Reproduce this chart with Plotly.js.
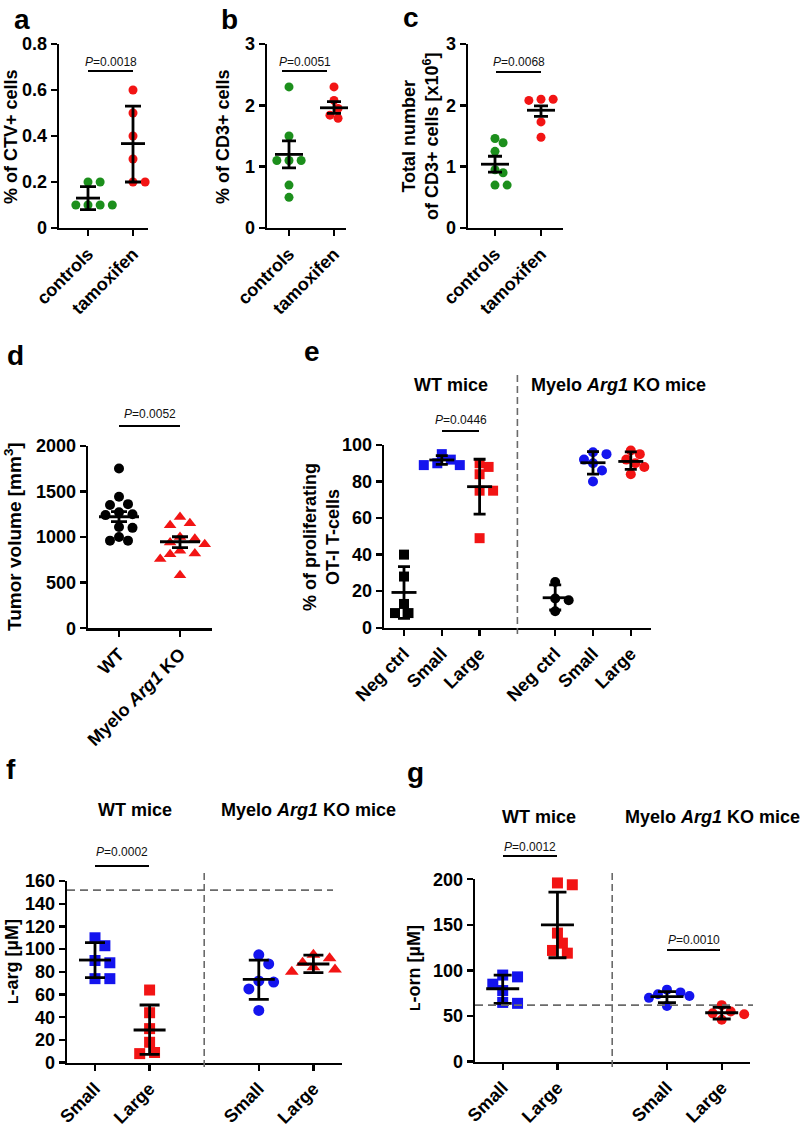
<!DOCTYPE html>
<html><head><meta charset="utf-8">
<script src="https://cdn.plot.ly/plotly-3.0.1.min.js"></script>
<style>html,body{margin:0;padding:0;background:#fff;}#chart{width:800px;height:1135px;}</style>
</head><body><div id="chart"></div>
<script>
// ================= DATA =================
// Panel a : % of CTV+ cells
const catsA = ['controls', 'tamoxifen'];
const ctvControls = [0.2, 0.2, 0.1, 0.1, 0.1, 0.1];
const ctvTamoxifen = [0.6, 0.5, 0.4, 0.3, 0.2, 0.2];
const ctvMean = [0.13, 0.367];
const ctvLow = [0.08, 0.20];
const ctvHigh = [0.18, 0.53];
const pValueA = '0.0018';

// Panel b : % of CD3+ cells
const catsB = ['controls', 'tamoxifen'];
const cd3PctControls = [2.3, 1.5, 1.1, 1.1, 1.1, 0.7, 0.5];
const cd3PctTamoxifen = [2.3, 2.08, 2.08, 1.95, 1.84, 1.79];
const cd3PctMean = [1.2, 1.96];
const cd3PctLow = [0.98, 1.87];
const cd3PctHigh = [1.42, 2.06];
const pValueB = '0.0051';

// Panel c : total number of CD3+ cells [x10^6]
const catsC = ['controls', 'tamoxifen'];
const cd3NumControls = [1.46, 1.39, 1.25, 0.95, 0.9, 0.7, 0.7];
const cd3NumTamoxifen = [2.1, 2.1, 2.08, 2.08, 1.73, 1.48];
const cd3NumMean = [1.04, 1.92];
const cd3NumLow = [0.91, 1.82];
const cd3NumHigh = [1.17, 1.99];
const pValueC = '0.0068';

// Panel d : tumor volume [mm3]
const catsD = ['WT', 'Myelo <i>Arg1</i> KO'];
const tumorWT = [1750, 1440, 1360, 1350, 1270, 1250, 1240, 1110, 1100, 1000, 960, 960];
const tumorKO = [1220, 1150, 1130, 1000, 980, 940, 920, 850, 820, 810, 760, 580];
const tumorMean = [1222, 948];
const tumorLow = [1168, 883];
const tumorHigh = [1277, 1003];
const pValueD = '0.0052';

// Panel e : % of proliferating OT-I T-cells
const catsE = ['Neg ctrl', 'Small', 'Large', 'Neg ctrl', 'Small', 'Large'];
const miceGroups = ['WT mice', 'Myelo <i>Arg1</i> KO mice'];
const prolifWTNeg = [40, 28, 13, 8, 8];
const prolifWTSmall = [95, 92, 90, 89, 89];
const prolifWTLarge = [90, 88, 84, 75, 75, 49];
const prolifKONeg = [25, 16, 15, 9];
const prolifKOSmall = [96, 95, 92, 90, 86, 80];
const prolifKOLarge = [97, 95, 92, 90, 88, 84];
const prolifMean = [19.3, 91.8, 77.2, 16.4, 90.3, 91.0];
const prolifLow = [5.1, 89.4, 62.2, 9.7, 84.1, 86.7];
const prolifHigh = [33.4, 94.2, 92.2, 23.4, 96.4, 96.2];
const pValueE = '0.0446';

// Panel f : L-arg [uM]
const catsF = ['Small', 'Large', 'Small', 'Large'];
const argWTSmall = [110, 103, 90, 88, 74, 74];
const argWTLarge = [64, 44, 30, 18, 9, 8];
const argKOSmall = [95, 87, 72, 71, 65, 46];
const argKOLarge = [95, 92, 88, 84, 82, 80];
const argMean = [90.4, 28.8, 73.4, 86.9];
const argLow = [74.9, 7.3, 55.8, 79.3];
const argHigh = [105.7, 50.8, 90.4, 94.8];
const argBaseline = 152;
const pValueF = '0.0002';

// Panel g : L-orn [uM]
const catsG = ['Small', 'Large', 'Small', 'Large'];
const ornWTSmall = [95, 93, 85, 78, 65, 64];
const ornWTLarge = [196, 194, 141, 130, 122, 119];
const ornKOSmall = [79, 76, 74, 72, 70, 61];
const ornKOLarge = [62, 55, 53, 52, 46];
const ornMean = [80, 150, 71.3, 53.7];
const ornLow = [64, 114, 64.7, 46.8];
const ornHigh = [95, 186, 76.8, 59.6];
const ornBaseline = 62;
const pValueG1 = '0.0012';
const pValueG2 = '0.0010';

// ================= STYLE / LAYOUT HELPERS =================
const FONT = 'Arial, "Liberation Sans", Helvetica, sans-serif';
const GREEN = '#1c8f1c', RED = '#f21414', BLUE = '#1414ee', BLACK = '#000000';
const W = 800, H = 1135;
const fx = p => p / W;
const fy = p => 1 - p / H;

const traces = [];
const layout = {
  width: W, height: H, margin: {l: 0, r: 0, t: 0, b: 0},
  paper_bgcolor: '#ffffff', plot_bgcolor: 'rgba(0,0,0,0)',
  showlegend: false, font: {family: FONT, color: BLACK},
  shapes: [], annotations: []
};

function swarmOffsets(vals, pxY, pxX, diam) {
  const order = vals.map((v, i) => i).sort((a, b) => vals[b] - vals[a]);
  const placed = [];
  const off = new Array(vals.length).fill(0);
  const step = diam * 0.45, minD = diam * 0.95;
  order.forEach(i => {
    const y = vals[i] * pxY;
    for (let k = 0; k < 60; k++) {
      const m = Math.ceil(k / 2) * (k % 2 === 1 ? 1 : -1);
      const xo = m * step;
      if (placed.every(p => Math.hypot(p.x - xo, p.y - y) >= minD)) {
        placed.push({x: xo, y: y});
        off[i] = xo / pxX;
        break;
      }
    }
  });
  return off;
}

function panel(k, g) {
  const sfx = k === 1 ? '' : String(k);
  const xr = 'x' + sfx, yr = 'y' + sfx;
  const xRange = [(g.xPx[0] - g.cat0) / g.sp, (g.xPx[1] - g.cat0) / g.sp];
  layout['xaxis' + sfx] = {
    domain: [fx(g.xPx[0]), fx(g.xPx[1])], range: xRange, anchor: yr,
    showline: true, linewidth: 2.4, linecolor: BLACK, mirror: false,
    ticks: 'outside', ticklen: 6, tickwidth: 2.4, tickcolor: BLACK,
    tickvals: g.tickPos, ticktext: g.tickText, tickangle: -45,
    tickfont: {family: FONT, size: 18, color: BLACK, weight: 'bold'},
    showgrid: false, zeroline: false, fixedrange: true
  };
  layout['yaxis' + sfx] = {
    domain: [fy(g.yPx[1]), fy(g.yPx[0])], range: g.yRange, anchor: xr,
    showline: true, linewidth: 2.4, linecolor: BLACK,
    ticks: 'outside', ticklen: 6, tickwidth: 2.4, tickcolor: BLACK,
    tickvals: g.yTicks, tickfont: {family: FONT, size: 18, color: BLACK, weight: 'bold'},
    showgrid: false, zeroline: false, fixedrange: true
  };
  const pxY = (g.yPx[1] - g.yPx[0]) / (g.yRange[1] - g.yRange[0]);
  const pxX = g.sp;
  g.groups.forEach(gr => {
    const off = swarmOffsets(gr.vals, pxY, pxX, gr.size);
    traces.push({
      type: 'scatter', mode: 'markers', xaxis: xr, yaxis: yr,
      x: gr.vals.map((v, i) => gr.pos + off[i]), y: gr.vals,
      marker: {color: gr.color, size: gr.size, symbol: gr.symbol, line: {width: 0}},
      cliponaxis: false, hoverinfo: 'skip'
    });
  });
  traces.push({
    type: 'scatter', mode: 'markers', xaxis: xr, yaxis: yr,
    x: g.sumPos, y: g.mean,
    marker: {symbol: 'line-ew', size: g.meanW / 1.4, color: BLACK, line: {color: BLACK, width: 2.8}},
    error_y: {type: 'data', symmetric: false,
      array: g.hi.map((h, i) => h - g.mean[i]),
      arrayminus: g.lo.map((l, i) => g.mean[i] - l),
      color: BLACK, thickness: 2.8, width: g.capW},
    cliponaxis: false, hoverinfo: 'skip'
  });
  return {xr: xr, yr: yr};
}

function pLine(text, x0, x1, yLine, yText) {
  layout.shapes.push({type: 'line', xref: 'paper', yref: 'paper',
    x0: fx(x0), x1: fx(x1), y0: fy(yLine), y1: fy(yLine), line: {color: BLACK, width: 2}});
  layout.annotations.push({xref: 'paper', yref: 'paper', x: fx((x0 + x1) / 2), y: fy(yText),
    xanchor: 'center', yanchor: 'middle', showarrow: false,
    text: '<i>P</i>=' + text, font: {family: FONT, size: 12, color: '#111'}});
}
function label(text, x, y, size, angle) {
  layout.annotations.push({xref: 'paper', yref: 'paper', x: fx(x), y: fy(y),
    xanchor: 'center', yanchor: 'middle', showarrow: false, textangle: angle || 0,
    text: '<b>' + text + '</b>', font: {family: FONT, size: size, color: BLACK, weight: 'bold'}});
}
function vDivider(xref, pos, yTop, yBot) {
  layout.shapes.push({type: 'line', xref: xref, yref: 'paper', x0: pos, x1: pos,
    y0: fy(yTop), y1: fy(yBot), line: {color: '#6a6a6a', width: 1.6, dash: '7px,4px'}});
}
function hBaseline(yref, val, xl, xrgt) {
  layout.shapes.push({type: 'line', xref: 'paper', yref: yref, x0: fx(xl), x1: fx(xrgt),
    y0: val, y1: val, line: {color: '#6a6a6a', width: 1.6, dash: '8px,5px'}});
}

const twoPos = [0, 1];
const sixPos = catsE.map((c, i) => i < 3 ? i : i + 1);
const fourPos = catsF.map((c, i) => i < 2 ? i : i + 1);

// ---------- a ----------
panel(1, {xPx: [59, 148], cat0: 88, sp: 45, yPx: [44, 228], yRange: [0, 0.8],
  yTicks: [0, 0.2, 0.4, 0.6, 0.8], tickPos: twoPos, tickText: catsA,
  groups: [{vals: ctvControls, pos: 0, color: GREEN, size: 9, symbol: 'circle'},
           {vals: ctvTamoxifen, pos: 1, color: RED, size: 9, symbol: 'circle'}],
  sumPos: twoPos, mean: ctvMean, lo: ctvLow, hi: ctvHigh, meanW: 24, capW: 8});
pLine(pValueA, 88, 133, 71, 62);
label('% of CTV+ cells', 11, 137, 18, -90);
label('a', 22, 19, 28);

// ---------- b ----------
panel(2, {xPx: [267, 346], cat0: 289, sp: 45, yPx: [44, 228], yRange: [0, 3],
  yTicks: [0, 1, 2, 3], tickPos: twoPos, tickText: catsB,
  groups: [{vals: cd3PctControls, pos: 0, color: GREEN, size: 9, symbol: 'circle'},
           {vals: cd3PctTamoxifen, pos: 1, color: RED, size: 9, symbol: 'circle'}],
  sumPos: twoPos, mean: cd3PctMean, lo: cd3PctLow, hi: cd3PctHigh, meanW: 28, capW: 7});
pLine(pValueB, 282, 327, 71, 62);
label('% of CD3+ cells', 223, 137, 18, -90);
label('b', 230, 19, 28);

// ---------- c ----------
panel(3, {xPx: [468, 563], cat0: 495, sp: 46, yPx: [44, 228], yRange: [0, 3],
  yTicks: [0, 1, 2, 3], tickPos: twoPos, tickText: catsC,
  groups: [{vals: cd3NumControls, pos: 0, color: GREEN, size: 9, symbol: 'circle'},
           {vals: cd3NumTamoxifen, pos: 1, color: RED, size: 9, symbol: 'circle'}],
  sumPos: twoPos, mean: cd3NumMean, lo: cd3NumLow, hi: cd3NumHigh, meanW: 28, capW: 7});
pLine(pValueC, 496, 541, 72, 62);
label('Total number<br>of CD3+ cells [x10<sup>6</sup>]', 420, 136, 18, -90);
label('c', 411, 18, 28);

// ---------- d ----------
panel(4, {xPx: [88, 212], cat0: 119, sp: 61, yPx: [445.7, 628.3], yRange: [0, 2000],
  yTicks: [0, 500, 1000, 1500, 2000], tickPos: twoPos, tickText: catsD,
  groups: [{vals: tumorWT, pos: 0, color: BLACK, size: 10, symbol: 'circle'},
           {vals: tumorKO, pos: 1, color: RED, size: 11, symbol: 'triangle-up'}],
  sumPos: twoPos, mean: tumorMean, lo: tumorLow, hi: tumorHigh, meanW: 40, capW: 8});
pLine(pValueD, 119, 180, 426, 414);
label('Tumor volume [mm<sup>3</sup>]', 13, 537, 19, -90);
label('d', 15, 355, 28);

// ---------- e ----------
const pe = panel(5, {xPx: [384, 651], cat0: 404, sp: 37.8, yPx: [445, 627.7], yRange: [0, 100],
  yTicks: [0, 20, 40, 60, 80, 100], tickPos: sixPos, tickText: catsE,
  groups: [{vals: prolifWTNeg, pos: sixPos[0], color: BLACK, size: 10, symbol: 'square'},
           {vals: prolifWTSmall, pos: sixPos[1], color: BLUE, size: 10, symbol: 'square'},
           {vals: prolifWTLarge, pos: sixPos[2], color: RED, size: 10, symbol: 'square'},
           {vals: prolifKONeg, pos: sixPos[3], color: BLACK, size: 10, symbol: 'circle'},
           {vals: prolifKOSmall, pos: sixPos[4], color: BLUE, size: 10, symbol: 'circle'},
           {vals: prolifKOLarge, pos: sixPos[5], color: RED, size: 10, symbol: 'circle'}],
  sumPos: sixPos, mean: prolifMean, lo: prolifLow, hi: prolifHigh, meanW: 25, capW: 6});
vDivider(pe.xr, 3, 375, 634);
pLine(pValueE, 442, 479, 431, 420);
label(miceGroups[0], 451, 385, 18);
label(miceGroups[1], 618, 385, 18);
label('% of proliferating<br>OT-I T-cells', 321, 537, 18, -90);
label('e', 312, 352, 28);

// ---------- f ----------
const pf = panel(6, {xPx: [67, 342], cat0: 95, sp: 54.6, yPx: [881, 1062.7], yRange: [0, 160],
  yTicks: [0, 20, 40, 60, 80, 100, 120, 140, 160], tickPos: fourPos, tickText: catsF,
  groups: [{vals: argWTSmall, pos: fourPos[0], color: BLUE, size: 11, symbol: 'square'},
           {vals: argWTLarge, pos: fourPos[1], color: RED, size: 11, symbol: 'square'},
           {vals: argKOSmall, pos: fourPos[2], color: BLUE, size: 11, symbol: 'circle'},
           {vals: argKOLarge, pos: fourPos[3], color: RED, size: 12, symbol: 'triangle-up'}],
  sumPos: fourPos, mean: argMean, lo: argLow, hi: argHigh, meanW: 32, capW: 10});
hBaseline(pf.yr, argBaseline, 67, 333);
vDivider(pf.xr, 2, 873, 1069);
pLine(pValueF, 95, 149, 866, 852);
label(miceGroups[0], 135, 810, 18);
label(miceGroups[1], 308, 810, 18);
label('<span style="font-size:14px">L</span>-arg [µM]', 12, 962, 18, -90);
label('f', 11, 769, 28);

// ---------- g ----------
const pg = panel(7, {xPx: [475, 750], cat0: 502.7, sp: 54.75, yPx: [879.3, 1061.7], yRange: [0, 200],
  yTicks: [0, 50, 100, 150, 200], tickPos: fourPos, tickText: catsG,
  groups: [{vals: ornWTSmall, pos: fourPos[0], color: BLUE, size: 11, symbol: 'square'},
           {vals: ornWTLarge, pos: fourPos[1], color: RED, size: 11, symbol: 'square'},
           {vals: ornKOSmall, pos: fourPos[2], color: BLUE, size: 10, symbol: 'circle'},
           {vals: ornKOLarge, pos: fourPos[3], color: RED, size: 10, symbol: 'circle'}],
  sumPos: fourPos, mean: ornMean, lo: ornLow, hi: ornHigh, meanW: 33, capW: 9});
hBaseline(pg.yr, ornBaseline, 475, 753);
vDivider(pg.xr, 2, 873, 1068);
pLine(pValueG1, 503, 557, 856, 847);
pLine(pValueG2, 667, 720, 950, 940);
label(miceGroups[0], 539, 817, 18);
label(miceGroups[1], 712, 817, 18);
label('<span style="font-size:14px">L</span>-orn [µM]', 414, 968, 18, -90);
label('g', 415, 772, 28);

Plotly.newPlot('chart', traces, layout, {staticPlot: true, displayModeBar: false});
</script>
</body></html>
